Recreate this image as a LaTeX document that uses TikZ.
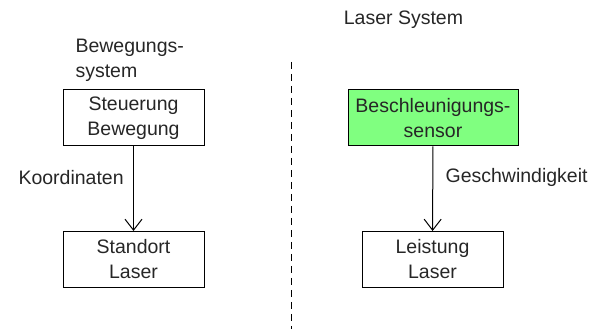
\documentclass[tikz,border=0pt]{standalone}
\usepackage{fontspec}
\setmainfont{Liberation Sans}
\usepackage{xcolor}
\usetikzlibrary{arrows.meta, positioning}
\definecolor{sensorgreen}{HTML}{80FF80}

\tikzset{
    block/.style={draw, line width=1pt, minimum width=141pt, minimum height=56pt, align=center, inner sep=0pt},
    flow/.style={line width=1pt, -{Straight Barb[length=11pt, width=17pt, line width=1pt]}},
}

\begin{document}
\begin{tikzpicture}[x=1pt, y=1pt, font=\fontsize{19.5}{25}\selectfont, text=black!85]
                                \useasboundingbox (0, 0) rectangle (598, 329);

                                \node[anchor=west, align=left] (bewlabel) at (72, 268.5) {Bewegungs-\\system};
                                \node (laserlabel) at (403.5, 309) {Laser System};

                                \node[block] (steuer) at (133.5, 211) {Steuerung\\Bewegung};
                                \node[block] (standort) at (133.5, 69.5) {Standort\\Laser};
                                \node[block, fill=sensorgreen, minimum width=170pt] (sensor) at (433, 211) {Beschleunigungs-\\sensor};
                                \node[block] (leistung) at (432.5, 69.5) {Leistung\\Laser};

                                \coordinate (sepTop) at (291, 267);
                                \coordinate (sepBot) at (291, 0);
                                \draw[line width=1pt, dash pattern=on 7pt off 5pt] (sepTop) -- (sepBot);

                                \draw
                                (steuer) edge[flow] node[pos=0.37, left=6pt]{Koordinaten} (standort)
                                (sensor) edge[flow] node[pos=0.37, right=9pt]{Geschwindigkeit} (leistung);
                            \end{tikzpicture}
\end{document}
